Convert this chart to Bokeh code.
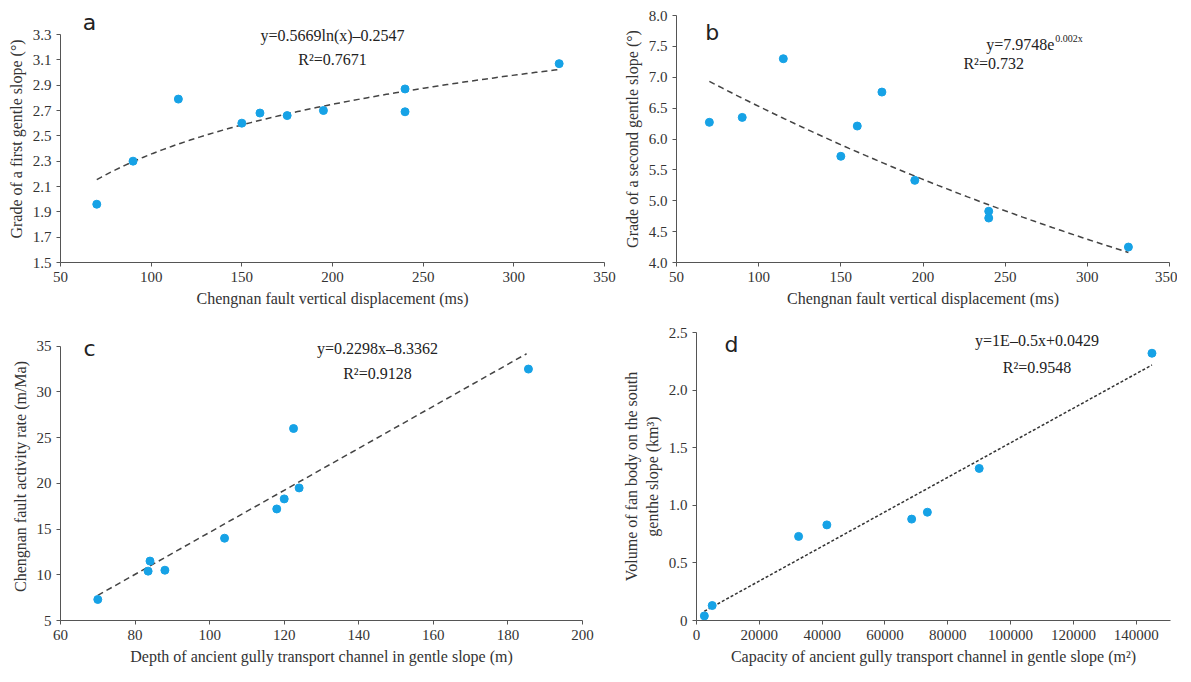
import numpy as np
from bokeh.plotting import figure
from bokeh.layouts import column, row
from bokeh.models import Label, Range1d, FixedTicker, NumeralTickFormatter
from bokeh.embed import file_html
from bokeh.resources import INLINE

ax = [70, 90, 115, 150, 160, 175, 195, 240, 240, 325]
ay = [1.96, 2.30, 2.79, 2.60, 2.68, 2.66, 2.70, 2.87, 2.69, 3.07]
bx = [70, 90, 115, 150, 160, 175, 195, 240, 240, 325]
by = [6.27, 6.35, 7.30, 5.72, 6.21, 6.76, 5.33, 4.83, 4.72, 4.25]
cx = [70, 83.5, 84, 88, 104, 118, 120, 122.5, 124, 185.5]
cy = [7.3, 10.4, 11.5, 10.5, 14.0, 17.2, 18.3, 26.0, 19.5, 32.5]
dx = [2500, 5000, 32500, 41500, 68500, 73500, 90000, 145000]
dy = [0.04, 0.13, 0.73, 0.83, 0.88, 0.94, 1.32, 2.32]

SERIF = "Liberation Serif"
DOT = "#16a2e6"

def mk(w, h, bl, br, bt, bb, xr, yr, xt, yt, xlab, ylab, ybounds=None):
    p = figure(width=w, height=h, output_backend="svg", toolbar_location=None,
               x_range=Range1d(*xr), y_range=Range1d(*yr),
               min_border_left=bl, min_border_right=br, min_border_top=bt, min_border_bottom=bb)
    p.outline_line_color = None
    p.xgrid.visible = False
    p.ygrid.visible = False
    p.xaxis.ticker = FixedTicker(ticks=xt)
    p.yaxis.ticker = FixedTicker(ticks=yt)
    if ybounds:
        p.yaxis.bounds = ybounds
    for a in (p.xaxis[0], p.yaxis[0]):
        a.minor_tick_line_color = None
        a.major_label_text_font = SERIF
        a.major_label_text_font_size = "15px"
        a.major_label_text_color = "#333333"
        a.axis_label_text_font = SERIF
        a.axis_label_text_font_size = "16px"
        a.axis_label_text_font_style = "normal"
        a.axis_label_text_color = "#333333"
        a.axis_line_color = "#555555"
        a.major_tick_line_color = "#555555"
        a.major_tick_out = 4
        a.major_tick_in = 0
    p.xaxis.axis_label = xlab
    p.yaxis.axis_label = ylab
    return p

def lab(p, x, y, t, size="16px", font=SERIF, align="center"):
    p.add_layout(Label(x=x, y=y, text=t, text_font=font, text_font_size=size,
                       text_align=align, text_baseline="middle", text_color="#222222"))

# a
pa = mk(620, 312, 60, 16, 15, 48, (50, 350), (1.5, 3.45), list(range(50, 351, 50)),
        [round(1.5 + 0.2 * i, 1) for i in range(10)],
        "Chengnan fault vertical displacement (ms)", "Grade of a first gentle slope (°)", (1.5, 3.3))
xs = np.linspace(70, 325, 100)
pa.line(xs, 0.5669 * np.log(xs) - 0.2547, line_dash="6 4", color="#444444", line_width=1.5)
pa.scatter(ax, ay, size=8, color=DOT)
lab(pa, 66, 3.394, "a", "22px", "DejaVu Sans")
lab(pa, 200, 3.29, "y=0.5669ln(x)–0.2547")
lab(pa, 200, 3.10, "R²=0.7671")

# b
pb = mk(557, 312, 52, 8, 4, 50, (50, 350), (4.0, 8.0), list(range(50, 351, 50)),
        [4 + 0.5 * i for i in range(9)],
        "Chengnan fault vertical displacement (ms)", "Grade of a second gentle slope (°)")
pb.yaxis.formatter = NumeralTickFormatter(format="0.0")
xs = np.linspace(70, 325, 100)
pb.line(xs, 7.9748 * np.exp(-0.002 * xs), line_dash="6 4", color="#444444", line_width=1.5)
pb.scatter(bx, by, size=8, color=DOT)
lab(pb, 71.7, 7.72, "b", "22px", "DejaVu Sans")
lab(pb, 280, 7.53, "y=7.9748e", align="right")
lab(pb, 280.5, 7.62, "0.002x", "10px", align="left")
lab(pb, 243, 7.22, "R²=0.732")

# c
pc = mk(620, 355, 60, 38, 18, 45, (60, 200), (5, 36.5), list(range(60, 201, 20)),
        list(range(5, 36, 5)),
        "Depth of ancient gully transport channel in gentle slope (m)", "Chengnan fault activity rate (m/Ma)",
        (5, 35))
xs = np.array([70, 185])
pc.line(xs, 0.2298 * xs - 8.3362, line_dash="6 4", color="#444444", line_width=1.5)
pc.scatter(cx, cy, size=8, color=DOT)
lab(pc, 67.8, 34.8, "c", "22px", "DejaVu Sans")
lab(pc, 145, 34.7, "y=0.2298x–8.3362")
lab(pc, 145, 32.0, "R²=0.9128")

# d
pd = mk(557, 355, 52, 7, 20, 45, (0, 150900), (0, 2.5), list(range(0, 140001, 20000)),
        [0, 0.5, 1.0, 1.5, 2.0, 2.5],
        "Capacity of ancient gully transport channel in gentle slope (m²)",
        "Volume of fan body on the south\ngenthe slope (km³)")
pd.yaxis.major_label_overrides = {0: "0", 0.5: "0.5", 1.0: "1.0", 1.5: "1.5", 2.0: "2.0", 2.5: "2.5"}
pd.xaxis.formatter = NumeralTickFormatter(format="0")
xs = np.array([2500, 145000])
pd.line(xs, 1.5e-5 * xs + 0.0429, line_dash="3 2", color="#333333", line_width=1.5)
pd.scatter(dx, dy, size=8, color=DOT)
lab(pd, 11150, 2.40, "d", "22px", "DejaVu Sans")
lab(pd, 108400, 2.43, "y=1E–0.5x+0.0429")
lab(pd, 108400, 2.20, "R²=0.9548")

layout = column(row(pa, pb), row(pc, pd))
open("out.html", "w").write(file_html(layout, INLINE))
